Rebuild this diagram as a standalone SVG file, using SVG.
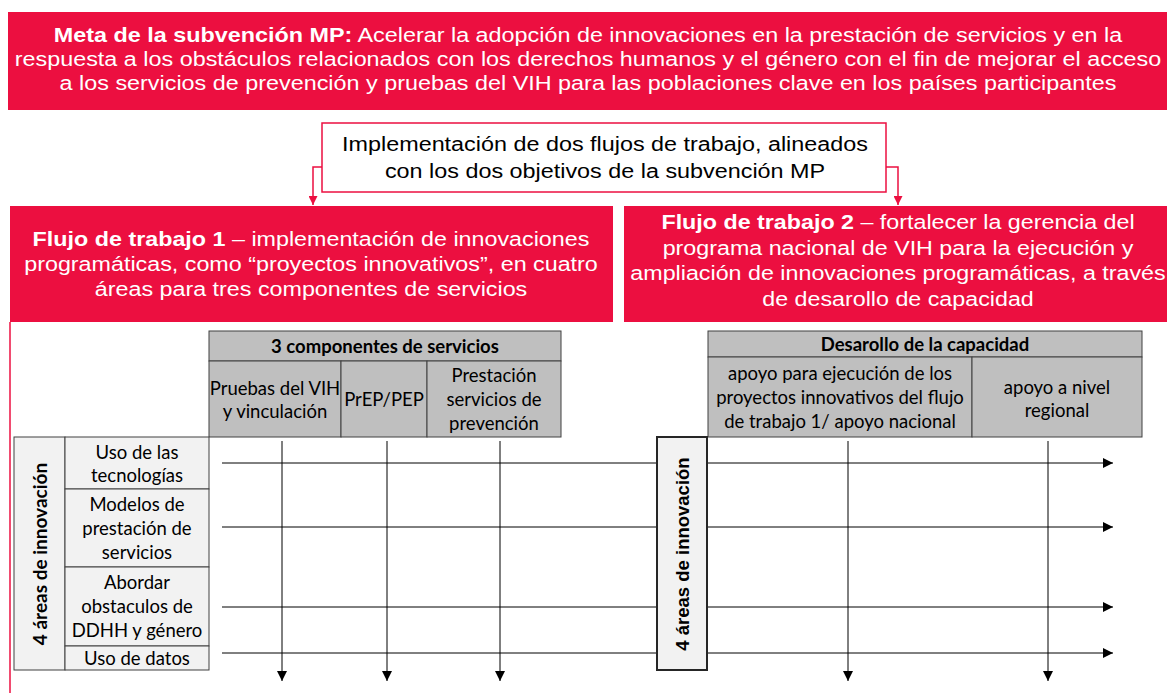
<svg xmlns="http://www.w3.org/2000/svg" width="1167" height="693" viewBox="0 0 1167 693">
<style>
.red{fill:#EC0F40}
.wt{fill:#fff;font-family:"Liberation Sans",Arial,sans-serif;font-size:21px;text-anchor:middle}
.bk{fill:#000;font-family:"Liberation Sans",Arial,sans-serif;font-size:21px;text-anchor:middle}
.b{font-weight:bold}
.cell{fill:#BFBFBF;stroke:#404040;stroke-width:1}
.lcell{fill:#F2F2F2;stroke:#404040;stroke-width:1}
.tt{fill:#000;font-family:Lato,"Noto Sans",sans-serif;font-size:18.5px;text-anchor:middle}
.ln{stroke:#000;stroke-width:1;fill:none}
.rl{stroke:#EC0F40;stroke-width:1.5;fill:none}
</style>
<defs>
<marker id="ah" viewBox="0 0 10 10" refX="10" refY="5" markerWidth="10" markerHeight="10" markerUnits="userSpaceOnUse" orient="auto"><path d="M0,0 L10,5 L0,10 z" fill="#000"/></marker>
<marker id="rh" viewBox="0 0 10 10" refX="10" refY="5" markerWidth="9" markerHeight="9" markerUnits="userSpaceOnUse" orient="auto"><path d="M0,0 L10,5 L0,10 z" fill="#EC0F40"/></marker>
</defs>
<rect width="1167" height="693" fill="#fff"/>

<g id="meta">
<rect class="red" x="8" y="12" width="1159" height="98"/>
<g transform="matrix(1.113,0,0,1,588,0)">
<text class="wt" x="0" y="42"><tspan class="b">Meta de la subvención MP:</tspan> Acelerar la adopción de innovaciones en la prestación de servicios y en la</text>
<text class="wt" x="0" y="66">respuesta a los obstáculos relacionados con los derechos humanos y el género con el fin de mejorar el acceso</text>
<text class="wt" x="0" y="90">a los servicios de prevención y pruebas del VIH para las poblaciones clave en los países participantes</text>
</g>
</g>

<g id="impl">
<rect x="322" y="123" width="564" height="69" fill="#fff" stroke="#EC0F40" stroke-width="1.5"/>
<g transform="matrix(1.113,0,0,1,605,0)">
<text class="bk" x="0" y="151">Implementación de dos flujos de trabajo, alineados</text>
<text class="bk" x="0" y="178">con los dos objetivos de la subvención MP</text>
</g>
</g>

<g id="flujo1">
<rect class="red" x="10" y="206" width="603" height="116"/>
<line x1="10" y1="322" x2="10" y2="693" stroke="#EC0F40" stroke-width="1.5"/>
<g transform="matrix(1.11,0,0,1,311,0)">
<text class="wt" x="0" y="246"><tspan class="b">Flujo de trabajo 1</tspan> – implementación de innovaciones</text>
<text class="wt" x="0" y="271">programáticas, como “proyectos innovativos”, en cuatro</text>
<text class="wt" x="0" y="296">áreas para tres componentes de servicios</text>
</g>
</g>

<g id="flujo2">
<rect class="red" x="624" y="206" width="543" height="116"/>
<g transform="matrix(1.108,0,0,1,898,0)">
<text class="wt" x="0" y="229"><tspan class="b">Flujo de trabajo 2</tspan> – fortalecer la gerencia del</text>
<text class="wt" x="0" y="255">programa nacional de VIH para la ejecución y</text>
<text class="wt" x="0" y="280">ampliación de innovaciones programáticas, a través</text>
<text class="wt" x="0" y="306">de desarollo de capacidad</text>
</g>
</g>

<g id="componentes">
<rect class="cell" x="209" y="331" width="352" height="30"/>
<text class="tt b" x="385" y="353">3 componentes de servicios</text>
<rect class="cell" x="209" y="361" width="132" height="76"/>
<rect class="cell" x="341" y="361" width="86" height="76"/>
<rect class="cell" x="427" y="361" width="134" height="76"/>
<text class="tt" x="275" y="395">Pruebas del VIH</text>
<text class="tt" x="275" y="418">y vinculación</text>
<text class="tt" x="384" y="406">PrEP/PEP</text>
<text class="tt" x="494" y="382">Prestación</text>
<text class="tt" x="494" y="406">servicios de</text>
<text class="tt" x="494" y="430">prevención</text>
</g>

<g id="areas">
<rect class="lcell" x="14" y="437" width="51" height="233"/>
<text class="tt b" style="font-size:19px" transform="translate(47,554) rotate(-90)">4 áreas de innovación</text>
<rect class="lcell" x="65" y="437" width="144" height="52"/>
<rect class="lcell" x="65" y="489" width="144" height="78"/>
<rect class="lcell" x="65" y="567" width="144" height="79"/>
<rect class="lcell" x="65" y="646" width="144" height="24"/>
<text class="tt" x="137" y="459">Uso de las</text>
<text class="tt" x="137" y="482">tecnologías</text>
<text class="tt" x="137" y="511">Modelos de</text>
<text class="tt" x="137" y="535">prestación de</text>
<text class="tt" x="137" y="559">servicios</text>
<text class="tt" x="137" y="589">Abordar</text>
<text class="tt" x="137" y="613">obstaculos de</text>
<text class="tt" x="137" y="637">DDHH y género</text>
<text class="tt" x="137" y="665">Uso de datos</text>
</g>

<g id="capacidad">
<rect class="cell" x="708" y="331" width="434" height="26"/>
<text class="tt b" x="925" y="351">Desarollo de la capacidad</text>
<rect class="cell" x="708" y="357" width="264" height="80"/>
<rect class="cell" x="972" y="357" width="170" height="80"/>
<text class="tt" x="840" y="380">apoyo para ejecución de los</text>
<text class="tt" x="840" y="404">proyectos innovativos del flujo</text>
<text class="tt" x="840" y="428">de trabajo 1/ apoyo nacional</text>
<text class="tt" x="1057" y="394">apoyo a nivel</text>
<text class="tt" x="1057" y="417">regional</text>
</g>

<g id="connectors">
<polyline class="rl" points="322,167 313,167 313,205" marker-end="url(#rh)"/>
<polyline class="rl" points="886,167 898,167 898,205" marker-end="url(#rh)"/>
<line class="ln" x1="222" y1="463" x2="1113" y2="463" marker-end="url(#ah)"/>
<line class="ln" x1="222" y1="527" x2="1113" y2="527" marker-end="url(#ah)"/>
<line class="ln" x1="222" y1="607" x2="1113" y2="607" marker-end="url(#ah)"/>
<line class="ln" x1="222" y1="653" x2="1113" y2="653" marker-end="url(#ah)"/>
<line class="ln" x1="282" y1="441" x2="282" y2="681" marker-end="url(#ah)"/>
<line class="ln" x1="387" y1="441" x2="387" y2="681" marker-end="url(#ah)"/>
<line class="ln" x1="500" y1="441" x2="500" y2="681" marker-end="url(#ah)"/>
<line class="ln" x1="848" y1="441" x2="848" y2="681" marker-end="url(#ah)"/>
<line class="ln" x1="1048" y1="441" x2="1048" y2="681" marker-end="url(#ah)"/>
</g>

<g id="areas2">
<rect x="657" y="437" width="50" height="233" fill="#F2F2F2" stroke="#262626" stroke-width="2"/>
<text class="b" transform="translate(689,554) rotate(-90)" style="font-family:'Liberation Sans',Arial,sans-serif;font-size:18.5px;text-anchor:middle">4 áreas de innovación</text>
</g>
</svg>
